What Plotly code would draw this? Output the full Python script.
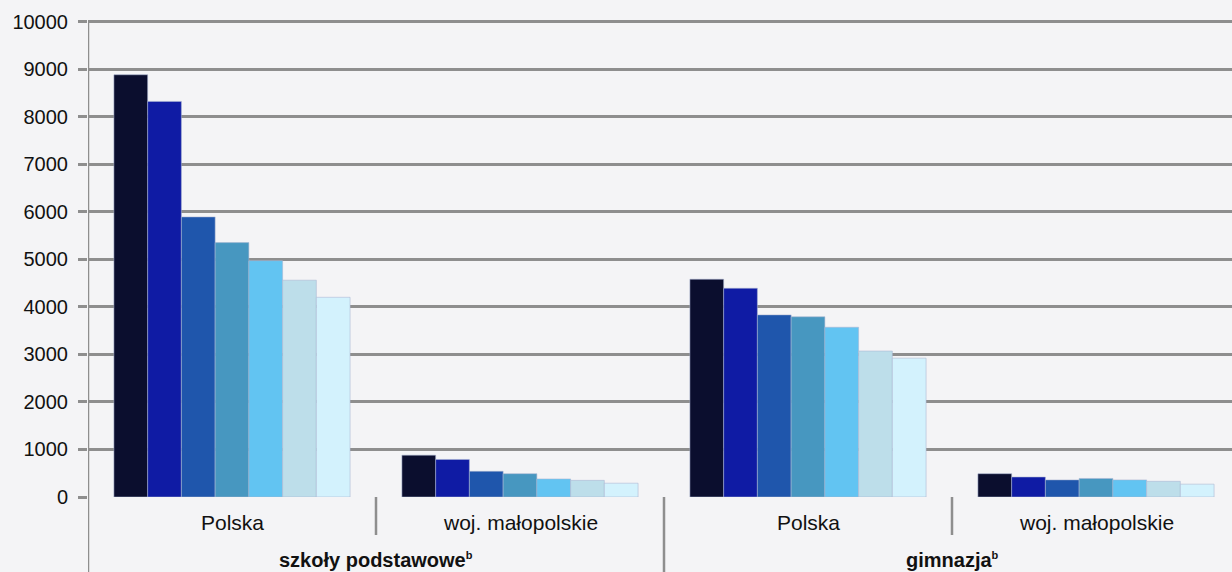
import plotly.graph_objects as go

# ---- data ----
regions = ["Polska", "woj. małopolskie", "Polska", "woj. małopolskie"]
school_types = ["szkoły podstawowe", "gimnazja"]
footnote = "b"
series_names = ["seria 1", "seria 2", "seria 3", "seria 4", "seria 5", "seria 6", "seria 7"]
s1 = [8880, 880, 4580, 490]
s2 = [8320, 790, 4390, 420]
s3 = [5890, 540, 3830, 360]
s4 = [5350, 490, 3790, 390]
s5 = [4970, 380, 3570, 360]
s6 = [4560, 350, 3070, 330]
s7 = [4200, 290, 2920, 270]
series_values = [s1, s2, s3, s4, s5, s6, s7]
y_ticks = [0, 1000, 2000, 3000, 4000, 5000, 6000, 7000, 8000, 9000, 10000]

colors = ["#0b0e2e", "#0f1ba4", "#1f56ac", "#4797c0", "#62c4f2", "#bddeea", "#d3f2fd"]
GRID = "#8e8e8e"
BG = "#f4f4f6"
FONT = "Liberation Sans, Arial, sans-serif"

x_pos = list(range(len(regions)))

fig = go.Figure()
for name, vals, col in zip(series_names, series_values, colors):
    fig.add_trace(go.Bar(
        x=x_pos, y=vals, name=name,
        marker=dict(color=col, line=dict(color="rgba(170,180,210,0.55)", width=1)),
    ))

PLOT_H = 572 - 12 - 75
YMAX = 10200

# region labels
for xi, lab in zip(x_pos, regions):
    fig.add_annotation(x=xi, xref="x", y=-25 / PLOT_H, yref="paper",
                       text=lab, showarrow=False, yanchor="middle",
                       font=dict(size=21, color="#111111", family=FONT))
# school-type labels
for i, lab in enumerate(school_types):
    fig.add_annotation(x=2 * i + 0.5, xref="x", y=-63 / PLOT_H, yref="paper",
                       text="<b>" + lab + "</b><sup><span style='font-size:11px'><b>"
                            + footnote + "</b></span></sup>",
                       showarrow=False, yanchor="middle",
                       font=dict(size=20, color="#111111", family=FONT))

# divider lines and left axis
bottom = -80 / PLOT_H
top = 10000 / YMAX
fig.add_shape(type="line", xref="x", yref="paper", x0=-0.5, x1=-0.5, y0=bottom, y1=top,
              line=dict(color=GRID, width=2.5))
fig.add_shape(type="line", xref="x", yref="paper", x0=1.5, x1=1.5, y0=bottom, y1=0,
              line=dict(color=GRID, width=2.5))
for xd in (0.5, 2.5):
    fig.add_shape(type="line", xref="x", yref="paper", x0=xd, x1=xd, y0=-38 / PLOT_H, y1=0,
                  line=dict(color=GRID, width=2.5))

fig.update_layout(
    width=1232, height=572,
    margin=dict(l=88, r=0, t=12, b=75),
    paper_bgcolor=BG, plot_bgcolor=BG,
    barmode="group", bargap=0.18, bargroupgap=0,
    showlegend=False,
    font=dict(family=FONT, size=20, color="#111111"),
    xaxis=dict(range=[-0.5, 3.5 - 8 / 288], showticklabels=False, showgrid=False,
               zeroline=False, showline=False, ticks=""),
    yaxis=dict(range=[0, YMAX], tickvals=y_ticks, tickformat="d", showgrid=True,
               gridcolor=GRID, gridwidth=2.5, zeroline=False, showline=False,
               ticks="outside", ticklen=9, tickwidth=2.5, tickcolor=GRID,
               ticklabelstandoff=6,
               tickfont=dict(size=20, color="#111111", family=FONT)),
)

fig.write_html("out.html", config={"displayModeBar": False},
               post_script="document.body.style.margin='0';document.body.style.padding='0';"
                           "document.body.style.background='" + BG + "';")
